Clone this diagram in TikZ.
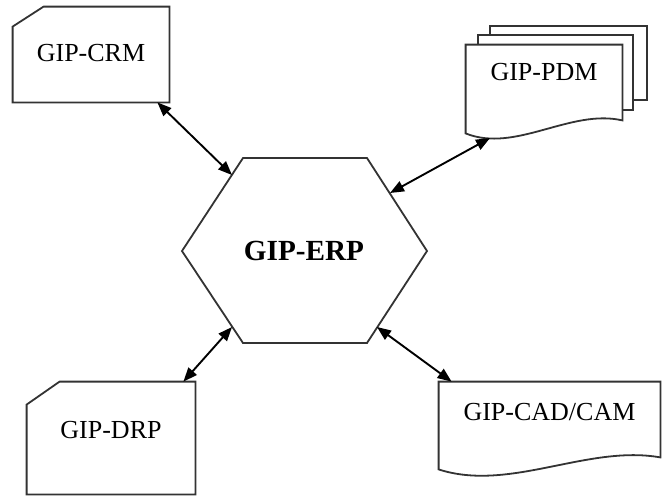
\documentclass[tikz,border=0pt]{standalone}
\usepackage{fontspec}
\setmainfont{Liberation Serif}
\usetikzlibrary{arrows.meta,calc}
\tikzset{
  modbox/.style={inner sep=0pt, font=\fontsize{13}{15}\selectfont},
  outline/.style={draw=black!80, line width=0.9pt},
  link/.style={{Triangle[length=7pt,width=5.5pt]}-{Triangle[length=7pt,width=5.5pt]}, line width=0.95pt},
}

\begin{document}
\begin{tikzpicture}[x=0.5pt,y=-0.5pt]
  \useasboundingbox (0,0) rectangle (665,500);
  % centre hexagon
  \draw[outline] (182,251) -- (243,158) -- (367,158) -- (427,251) -- (367,343) -- (243,343) -- cycle;
  \node[font=\fontsize{14.6}{17}\selectfont\bfseries] (erp) at (304,251) {GIP-ERP};
  \coordinate (erpA) at (232,175);
  \coordinate (erpB) at (390,193);
  \coordinate (erpC) at (232,327);
  \coordinate (erpD) at (377,327);

  % modules
  \node[modbox, minimum width=78pt, text height=27pt, text depth=20.5pt] (crm) at (91,54.5) {GIP-CRM};
  \node[modbox, minimum width=78pt, text height=17.5pt, text depth=26.5pt] (pdm) at (544,89) {GIP-PDM};
  \node[modbox, minimum width=84pt, text height=28pt, text depth=28pt] (drp) at (111,438) {GIP-DRP};
  \node[modbox, minimum width=110.5pt, text height=19pt, text depth=24.5pt] (cad) at (549.5,425.5) {GIP-CAD/CAM};

  \draw[outline] (crm.south west) -- ($(crm.north west)+(0,20)$) -- ($(crm.north west)+(31,0)$)
    -- (crm.north east) -- (crm.south east) -- cycle;
  \draw[outline] (drp.south west) -- ($(drp.north west)+(0,23)$) -- ($(drp.north west)+(33,0)$)
    -- (drp.north east) -- (drp.south east) -- cycle;

  % stacked pages
  \draw[outline] ($(pdm.north west)+(24,-10)$) -- ++(0,-9) -- ++(157,0) -- ++(0,74) -- ++(-14,0);
  \draw[outline] ($(pdm.north west)+(12,0)$) -- ++(0,-10) -- ++(155,0) -- ++(0,75) -- ++(-11,0);
  \draw[outline] (pdm.south west) .. controls +(50,20) and +(-52,-12) .. ($(pdm.south east)+(0,-13)$)
    -- (pdm.north east) -- (pdm.north west) -- cycle;
  \draw[outline] (cad.south west) .. controls +(71,23) and +(-73,-13) .. ($(cad.south east)+(0,-12)$)
    -- (cad.north east) -- (cad.north west) -- cycle;

  % links
  \coordinate (crmA) at ($(crm.south east)+(-12,0)$);
  \coordinate (pdmA) at (490,138);
  \coordinate (drpA) at ($(drp.north east)+(-12,0)$);
  \coordinate (cadA) at ($(cad.north west)+(13,0)$);
  \draw[link] (crmA) -- (erpA);
  \draw[link] (pdmA) -- (erpB);
  \draw[link] (drpA) -- (erpC);
  \draw[link] (cadA) -- (erpD);
\end{tikzpicture}
\end{document}
